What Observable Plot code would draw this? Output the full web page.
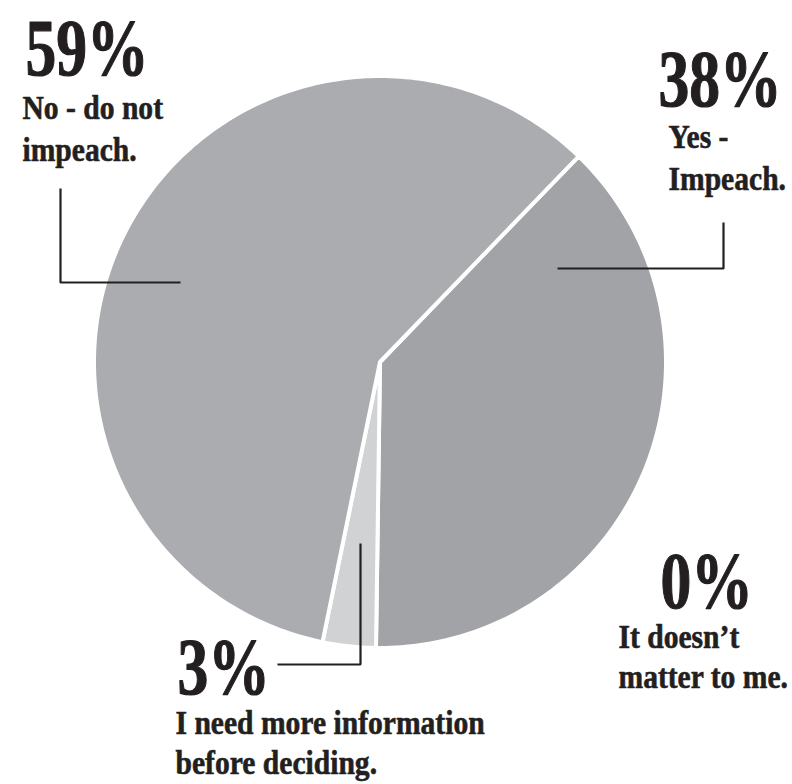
<!DOCTYPE html>
<html>
<head>
<meta charset="utf-8">
<script src="https://cdn.jsdelivr.net/npm/d3@7"></script>
<script src="https://cdn.jsdelivr.net/npm/@observablehq/plot@0.6"></script>
<style>
  html, body { margin: 0; padding: 0; background: #fff; }
  #chart svg { display: block; }
</style>
</head>
<body>
<div id="chart"></div>
<script>
// ---- data ----
const categories = ["Yes - Impeach.", "I need more information before deciding.", "No - do not impeach.", "It doesn’t matter to me."];
const values = [38, 3, 59, 0];
const pctLabels = ["38%", "3%", "59%", "0%"];
const descLines = [["Yes -", "Impeach."], ["I need more information", "before deciding."], ["No - do not", "impeach."], ["It doesn’t", "matter to me."]];

// ---- styling / layout ----
const colors = ["#a2a3a7", "#d1d2d4", "#abacb0", "#c8c9cb"];
const ink = "#231f20";
const W = 792, H = 784;
const cx = 379.5, cy = 361.5, R = 286;
const startDeg = 44;

// pie geometry in unit-circle coordinates (angle clockwise from north)
const total = d3.sum(values);
const slices = [];
let a0 = startDeg;
values.forEach((v, i) => {
  const span = v / total * 360;
  const a1 = a0 + span;
  if (v > 0) {
    const pts = [{x: 0, y: 0}];
    const n = Math.max(2, Math.ceil(span));
    for (let k = 0; k <= n; k++) {
      const a = (a0 + span * k / n) * Math.PI / 180;
      pts.push({x: Math.sin(a), y: Math.cos(a)});
    }
    slices.push({i, pts});
  }
  a0 = a1;
});

const toX = px => (px - cx) / R;
const toY = py => (cy - py) / R;

// leader lines (annotation layout, reference pixels)
const leaders = [
  [[557, 268], [723, 268], [723, 222]],
  [[277, 664], [360, 664], [360, 543]],
  [[60, 188], [60, 282], [180, 282]]
];

// label layout: percentage left/baseline, description left/first baseline/line gap
const labelPos = [
  {px: 658, pb: 105, dx: 668, db: 147, gap: 42},
  {px: 177, pb: 693, dx: 175, db: 733, gap: 40},
  {px: 25,  pb: 74,  dx: 22,  db: 118, gap: 42},
  {px: 660, pb: 607, dx: 618, db: 647, gap: 40}
];
const pctSize = 80, descSize = 34;

const marks = [];
slices.forEach(s => {
  marks.push(Plot.line(s.pts, {
    x: "x", y: "y", curve: "linear-closed",
    fill: colors[s.i], stroke: "#fff", strokeWidth: 4, strokeLinejoin: "round"
  }));
});
leaders.forEach(L => {
  marks.push(Plot.line(L.map(([px, py]) => ({x: toX(px), y: toY(py)})), {
    x: "x", y: "y", stroke: ink, strokeWidth: 2.2, strokeLinejoin: "miter", strokeLinecap: "butt"
  }));
});
pctLabels.forEach((t, i) => {
  const p = labelPos[i];
  marks.push(Plot.text([t], {
    text: d => d, frameAnchor: "top-left", textAnchor: "start", lineAnchor: "top",
    dx: p.px, dy: p.pb - 0.71 * pctSize, fontSize: pctSize, fontWeight: "bold",
    fill: ink, stroke: ink, strokeWidth: 1.2,
    fontFamily: "Liberation Serif", className: "pct"
  }));
  descLines[i].forEach((line, j) => {
    marks.push(Plot.text([line], {
      text: d => d, frameAnchor: "top-left", textAnchor: "start", lineAnchor: "top",
      dx: p.dx, dy: p.db + j * p.gap - 0.71 * descSize, fontSize: descSize, fontWeight: "bold",
      fill: ink, stroke: ink, strokeWidth: 0.6,
      fontFamily: "Liberation Serif", className: "desc"
    }));
  });
});

const chart = Plot.plot({
  width: W, height: H,
  margin: 0,
  x: {domain: [toX(0), toX(W)], axis: null},
  y: {domain: [toY(H), toY(0)], axis: null},
  marks
});

// condense the serif type horizontally to match the reference's condensed face
d3.select(chart).selectAll("g.pct text").each(function() {
  const t = this.getAttribute("transform") || "";
  this.setAttribute("transform", t + " scale(0.77,1)");
});
d3.select(chart).selectAll("g.desc text").each(function() {
  const t = this.getAttribute("transform") || "";
  this.setAttribute("transform", t + " scale(0.87,1)");
});

document.getElementById("chart").appendChild(chart);
</script>
</body>
</html>
